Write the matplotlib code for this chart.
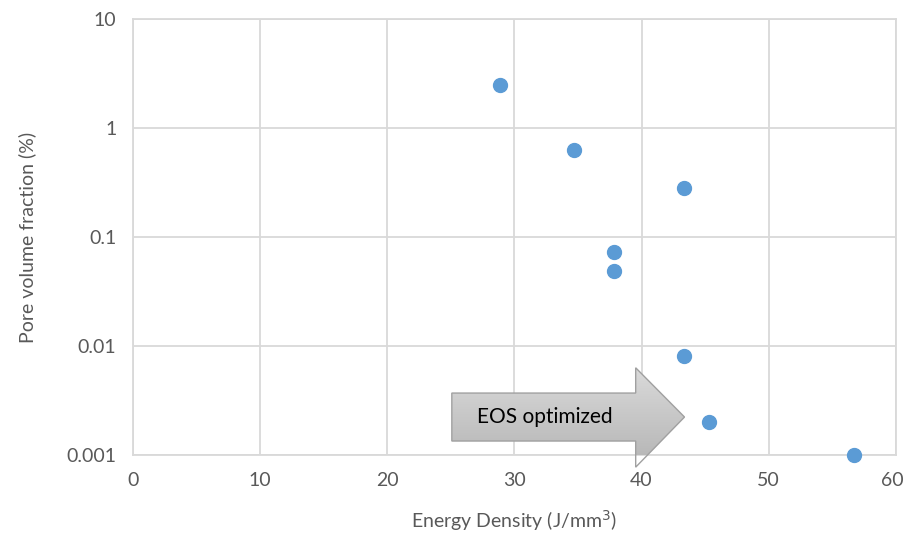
import numpy as np
import matplotlib.pyplot as plt
import matplotlib.transforms as mtransforms
from matplotlib.patches import Polygon
from matplotlib.colors import LinearSegmentedColormap

plt.rcParams['font.family'] = ['Lato', 'DejaVu Sans']

# data
energy_density = [28.9, 34.7, 43.3, 37.8, 37.8, 43.3, 45.3, 56.7]
pore_fraction = [2.5, 0.63, 0.28, 0.073, 0.049, 0.0081, 0.002, 0.001]
x_ticks = [0, 10, 20, 30, 40, 50, 60]
y_ticks = [0.001, 0.01, 0.1, 1, 10]
y_tick_labels = ["0.001", "0.01", "0.1", "1", "10"]

fig = plt.figure(figsize=(9.04, 5.34), dpi=100)
ax = fig.add_axes([0.147, 0.148, 0.844, 0.8165])

ax.scatter(energy_density, pore_fraction, s=100, color="#5B9BD5",
           zorder=3, clip_on=False)

ax.set_yscale("log")
ax.set_xlim(0, 60)
ax.set_ylim(0.001, 10)
ax.set_xticks(x_ticks)
ax.set_yticks(y_ticks)
ax.set_yticklabels(y_tick_labels)
ax.minorticks_off()
ax.tick_params(length=0, labelsize=14, colors="#595959", pad=12)
ax.grid(True, color="#D9D9D9", linewidth=1.3)
ax.set_axisbelow(True)
for s in ax.spines.values():
    s.set_color("#D9D9D9")
    s.set_linewidth(1.3)

# nudge last x label so it stays inside the figure
last = ax.get_xticklabels()[-1]
last.set_transform(last.get_transform() +
                   mtransforms.ScaledTranslation(-4 / 100, 0, fig.dpi_scale_trans))

ax.set_xlabel("Energy Density (J/mm$^3$)", fontsize=14, color="#595959",
              labelpad=14)
ax.set_ylabel("Pore volume fraction (%)", fontsize=14, color="#595959",
              labelpad=22)

# arrow annotation (axes fraction)
pts = [(0.418, 0.142), (0.659, 0.142), (0.659, 0.2), (0.723, 0.087),
       (0.659, -0.028), (0.659, 0.032), (0.418, 0.032)]
arrow = Polygon(pts, closed=True, transform=ax.transAxes,
                facecolor="none", edgecolor="#A0A0A0", linewidth=1,
                zorder=4, clip_on=False)
ax.add_patch(arrow)
grad = np.linspace(0, 1, 100).reshape(-1, 1)
img = ax.imshow(grad, cmap=LinearSegmentedColormap.from_list(
    "g", ["#DADADA", "#B4B4B4"]), aspect="auto",
    extent=[0.418, 0.723, -0.028, 0.2], transform=ax.transAxes,
    origin="upper", zorder=3.5, clip_on=True)
img.set_clip_path(arrow)
ax.text(0.54, 0.087, "EOS optimized", transform=ax.transAxes,
        ha="center", va="center", fontsize=15, color="#000000", zorder=5)

ax.set_xlim(0, 60)
ax.set_ylim(0.001, 10)

fig.savefig("out.png", dpi=100)
